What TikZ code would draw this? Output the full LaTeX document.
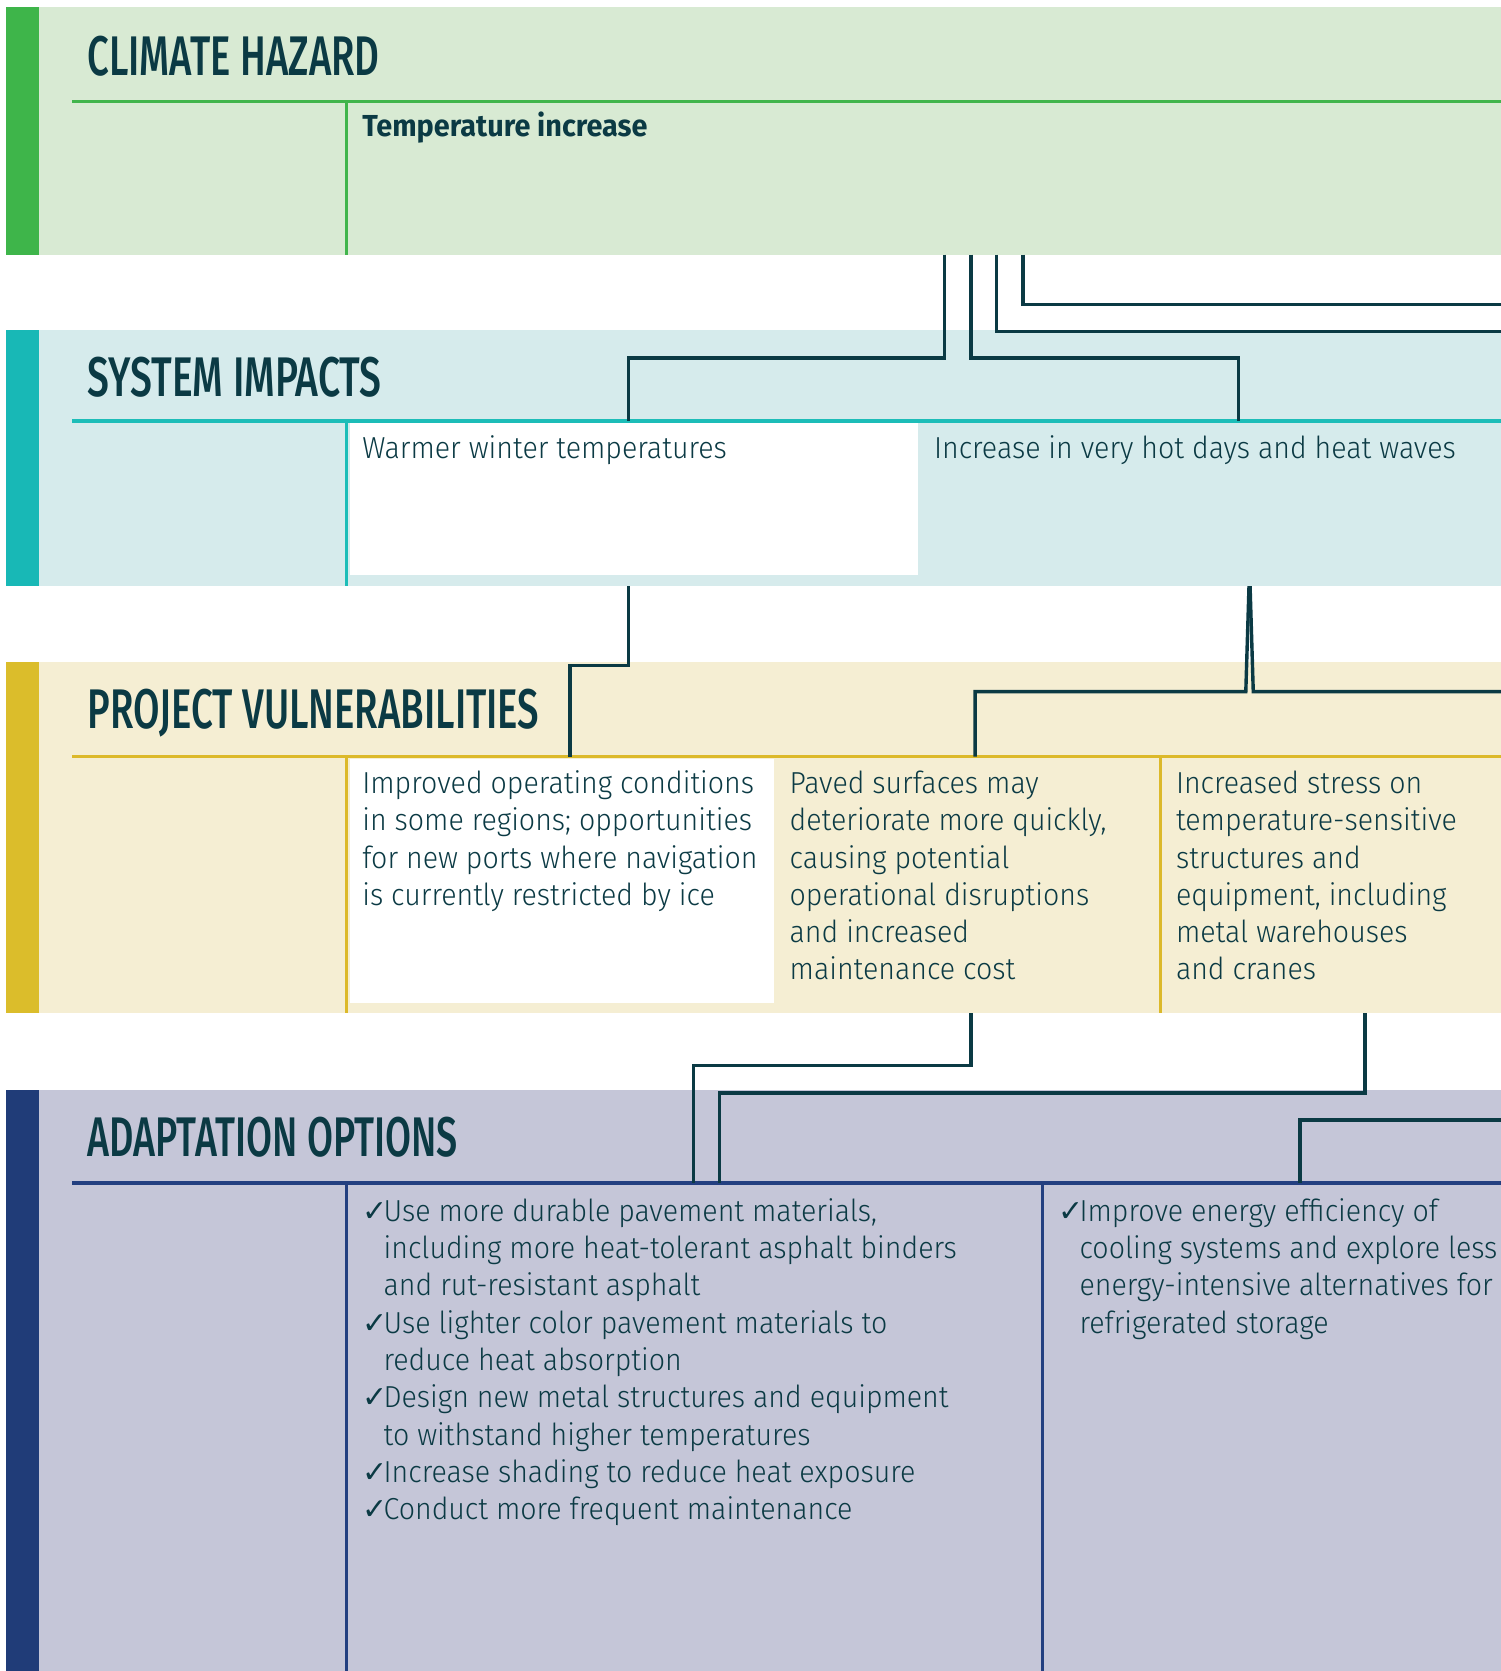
\documentclass[tikz,border=0pt]{standalone}
\usepackage{fontspec}
\usepackage{graphicx}
\newfontfamily\bodyfont{Fira Sans Light}[FakeStretch=0.94]
\newfontfamily\boldfont{Fira Sans}[FakeStretch=0.95]
\newfontfamily\headfont{Fira Sans Medium}
\newfontfamily\checkfont{DejaVu Sans}
\newlength\px
\setlength\px{0.53275pt}
\newcommand\bodysize{\fontsize{15.18pt}{18.65pt}\selectfont}
\newcommand\txt[1]{\begin{tabular}[t]{@{}l@{}}#1\end{tabular}}
\newcommand\ck{\makebox[20\px][l]{\checkfont\fontsize{15pt}{18.65pt}\selectfont ✓}}
\newcommand\ind{\hspace*{20\px}}
\newcommand\hdtext[2]{\resizebox{#1\px}{37\px}{\headfont #2}}
\definecolor{ink}{HTML}{0B3A44}
\definecolor{bgA}{HTML}{D8EAD3}
\definecolor{barA}{HTML}{3EB54A}
\definecolor{lnA}{HTML}{41B54C}
\definecolor{bgB}{HTML}{D6EBEC}
\definecolor{barB}{HTML}{18B8B6}
\definecolor{lnB}{HTML}{1DBDB8}
\definecolor{bgC}{HTML}{F5EED3}
\definecolor{barC}{HTML}{DBBD2B}
\definecolor{lnC}{HTML}{DCB92A}
\definecolor{bgD}{HTML}{C5C6D8}
\definecolor{barD}{HTML}{203C78}
\definecolor{lnD}{HTML}{233F80}
\tikzset{
  body/.style={anchor=base west, inner sep=0pt, outer sep=0pt, text=ink, font=\bodyfont\bodysize},
  hd/.style={anchor=base west, inner sep=0pt, outer sep=0pt, text=ink},
  conn/.style={draw=ink, line width=3.2\px, line join=miter, line cap=butt},
  rule/.style={line width=3.1\px},
}
\begin{document}
\begin{tikzpicture}[x=0.53275pt,y=-0.53275pt]
\useasboundingbox (0,0) rectangle (1408,1568);
\fill[white] (0,0) rectangle (1408,1568);
% ---- band 1: climate hazard
\fill[bgA] (37,7) rectangle (1408,239);
\fill[barA] (6,7) rectangle (37,239);
\draw[lnA,rule] (68,95) -- (1408,95);
\draw[lnA,rule] (325,95) -- (325,239);
% ---- band 2: system impacts
\fill[bgB] (37,310) rectangle (1408,550);
\fill[barB] (6,310) rectangle (37,550);
\fill[white] (328,397) rectangle (861,540);
\draw[lnB,rule] (68,395) -- (1408,395);
\draw[lnB,rule] (325,395) -- (325,550);
% ---- band 3: project vulnerabilities
\fill[bgC] (37,621) rectangle (1408,951);
\fill[barC] (6,621) rectangle (37,951);
\fill[white] (328,712) rectangle (726,941);
\draw[lnC,rule] (68,710) -- (1408,710);
\draw[lnC,rule] (325,710) -- (325,951);
\draw[lnC,rule] (1089,710) -- (1089,951);
% ---- band 4: adaptation options
\fill[bgD] (37,1023) rectangle (1408,1568);
\fill[barD] (6,1023) rectangle (37,1568);
\draw[lnD,rule] (68,1110) -- (1408,1110);
\draw[lnD,rule] (325,1110) -- (325,1568);
\draw[lnD,rule] (978,1110) -- (978,1568);
% ---- headings
\node[hd] (hA) at (82.2,70.4) {\hdtext{274}{CLIMATE HAZARD}};
\node[hd] (hB) at (82.2,372.3) {\hdtext{276}{SYSTEM IMPACTS}};
\node[hd] (hC) at (82.2,683.5) {\hdtext{424}{PROJECT VULNERABILITIES}};
\node[hd] (hD) at (82.2,1085) {\hdtext{347.5}{ADAPTATION OPTIONS}};
% ---- texts
\node[body] (hz) at (340,128.3) {\boldfont\bfseries Temperature increase};
\node[body] (si1) at (340,430) {Warmer winter temperatures};
\node[body] (si2) at (876.5,430) {Increase in very hot days and heat waves};
\node[body] (pv1) at (340,744.5) {\txt{Improved operating conditions\\in some regions; opportunities\\for new ports where navigation\\is currently restricted by ice}};
\node[body] (pv2) at (741,744.5) {\txt{Paved surfaces may\\deteriorate more quickly,\\causing potential\\operational disruptions\\and increased\\maintenance cost}};
\node[body] (pv3) at (1103.5,744.5) {\txt{Increased stress on\\temperature-sensitive\\structures and\\equipment, including\\metal warehouses\\and cranes}};
\node[body] (ao1) at (340,1146) {\txt{\ck Use more durable pavement materials,\\\ind including more heat-tolerant asphalt binders\\\ind and rut-resistant asphalt\\\ck Use lighter color pavement materials to\\\ind reduce heat absorption\\\ck Design new metal structures and equipment\\\ind to withstand higher temperatures\\\ck Increase shading to reduce heat exposure\\\ck Conduct more frequent maintenance}};
\node[body] (ao2) at (993,1146) {\txt{\ck Improve energy efficiency of\\\ind cooling systems and explore less\\\ind energy-intensive alternatives for\\\ind refrigerated storage}};
% ---- connector anchor points
\coordinate (a0) at (886,239);  \coordinate (a1) at (590,395);
\coordinate (b0) at (911,239);  \coordinate (b1) at (1162,395);
\coordinate (c0) at (935,239);  \coordinate (c1) at (1410,311);
\coordinate (d0) at (960,239);  \coordinate (d1) at (1410,286);
\coordinate (e0) at (590,550);  \coordinate (e1) at (535,710);
\coordinate (f0) at (1172,550); \coordinate (f1) at (915,710);
\coordinate (g0) at (1173,550); \coordinate (g1) at (1410,649);
\coordinate (k0) at (911,951);  \coordinate (k1) at (651,1110);
\coordinate (m0) at (1281,951); \coordinate (m1) at (675,1110);
\coordinate (n0) at (1410,1051);\coordinate (n1) at (1220,1110);
% ---- connectors
\draw[conn] (a0) -- (886,336) -| (a1);
\draw[conn] (b0) -- (911,336) -| (b1);
\draw[conn] (c0) |- (c1);
\draw[conn] (d0) |- (d1);
\draw[conn] (e0) -- (590,624.5) -| (e1);
\draw[conn] (f0) -- (1169,649) -| (f1);
\draw[conn] (g0) -- (1176,649) -- (g1);
\draw[conn] (k0) -- (911,1000) -| (k1);
\draw[conn] (m0) -- (1281,1025.5) -| (m1);
\draw[conn] (n0) -| (n1);
\end{tikzpicture}
\end{document}
